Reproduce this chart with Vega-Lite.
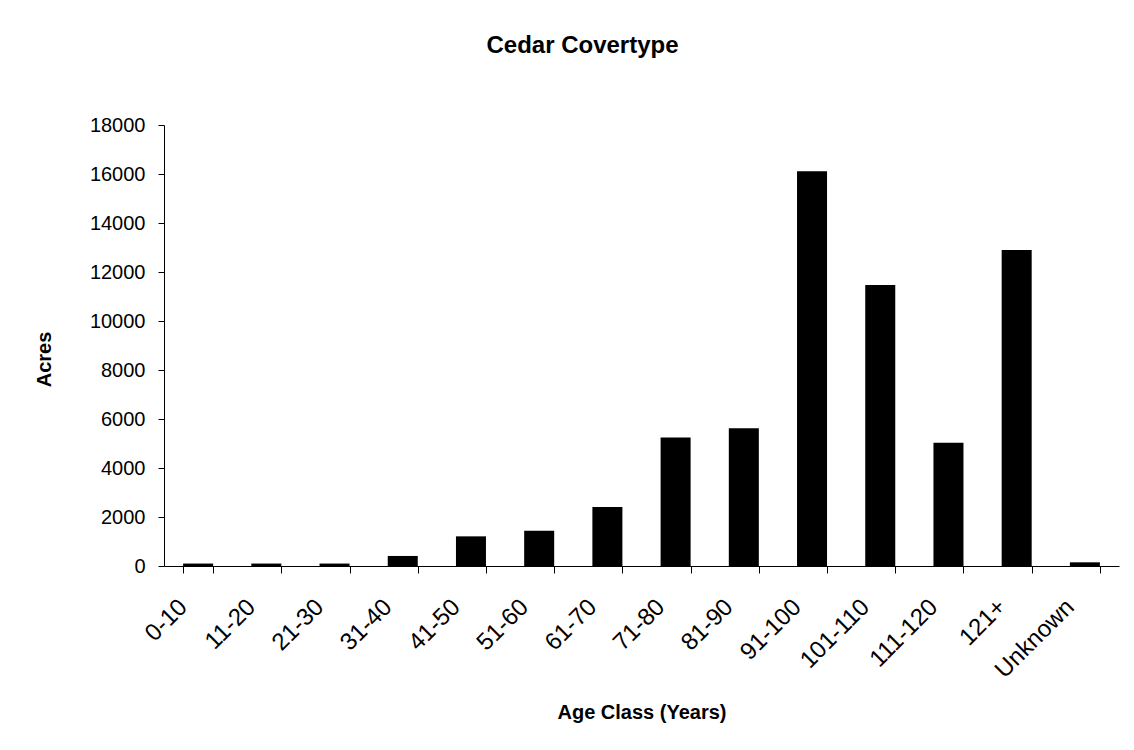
{
  "$schema": "https://vega.github.io/schema/vega-lite/v6.json",
  "autosize": {"type": "none"},
  "width": 955,
  "height": 441,
  "padding": {"left": 164, "top": 125, "right": 15, "bottom": 184},
  "background": "white",
  "title": {
    "text": "Cedar Covertype",
    "font": "Liberation Sans",
    "fontSize": 24,
    "fontWeight": "bold",
    "color": "black",
    "anchor": "middle",
    "dx": -59,
    "baseline": "bottom",
    "offset": 33
  },
  "data": {
    "values": [
      {"age": "0-10", "acres": 100},
      {"age": "11-20", "acres": 100},
      {"age": "21-30", "acres": 100},
      {"age": "31-40", "acres": 410},
      {"age": "41-50", "acres": 1210},
      {"age": "51-60", "acres": 1440},
      {"age": "61-70", "acres": 2410},
      {"age": "71-80", "acres": 5250},
      {"age": "81-90", "acres": 5620},
      {"age": "91-100", "acres": 16110},
      {"age": "101-110", "acres": 11470},
      {"age": "111-120", "acres": 5030},
      {"age": "121+", "acres": 12900},
      {"age": "Unknown", "acres": 150}
    ]
  },
  "mark": {"type": "bar", "color": "black"},
  "encoding": {
    "x": {
      "field": "age",
      "type": "nominal",
      "sort": null,
      "scale": {"paddingInner": 0.56, "paddingOuter": 0.28},
      "axis": {
        "title": "Age Class (Years)",
        "labelFontSize": 24,
        "labelAngle": -45,
        "labelAlign": "right",
        "labelBaseline": "middle",
        "labelPadding": 30,
        "labelOffset": -15,
        "tickBand": "extent",
        "tickSize": 7,
        "titlePadding": 20
      }
    },
    "y": {
      "field": "acres",
      "type": "quantitative",
      "scale": {"domain": [0, 18000], "nice": false},
      "axis": {
        "title": "Acres",
        "values": [0, 2000, 4000, 6000, 8000, 10000, 12000, 14000, 16000, 18000],
        "format": "d",
        "grid": false,
        "tickSize": 6,
        "labelPadding": 13,
        "titlePadding": 35,
        "titleY": 234
      }
    }
  },
  "config": {
    "view": {"stroke": null},
    "axis": {
      "labelFont": "Liberation Sans",
      "labelFontSize": 20,
      "labelColor": "black",
      "titleFont": "Liberation Sans",
      "titleFontSize": 20,
      "titleFontWeight": "bold",
      "titleColor": "black",
      "domainColor": "black",
      "tickColor": "black",
      "labelOverlap": false
    }
  }
}
